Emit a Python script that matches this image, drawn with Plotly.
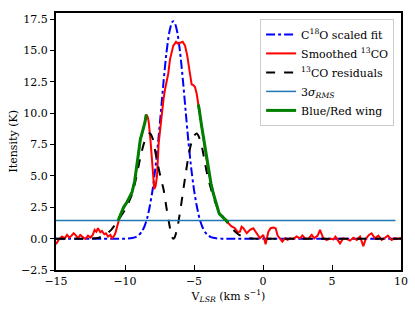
import plotly.graph_objects as go

# ---- data ----
fit_v = [-15.0, -10.0, -9.6, -9.4, -9.2, -9.0, -8.8, -8.6, -8.4, -8.2, -8.0, -7.8, -7.6, -7.4, -7.2,
         -7.0, -6.8, -6.6, -6.5, -6.4, -6.2, -6.0, -5.8, -5.6, -5.4, -5.2, -5.0, -4.8, -4.6,
         -4.4, -4.2, -4.0, -3.8, -3.6, -3.4, -3.0, 10.0]
fit_T = [0.0, 0.0, 0.03, 0.07, 0.14, 0.28, 0.53, 0.95, 1.6, 2.6, 3.9, 5.6, 7.7, 10.1, 12.6,
         14.8, 16.4, 17.25, 17.35, 17.25, 16.4, 14.8, 12.6, 10.1, 7.7, 5.6, 3.9, 2.6, 1.6,
         0.95, 0.53, 0.28, 0.14, 0.07, 0.03, 0.0, 0.0]

res_v = [-15.0, -12.5, -12.0, -11.5, -11.0, -10.5, -10.0, -9.5, -9.2, -9.0, -8.8, -8.6, -8.4, -8.2,
         -8.0, -7.8, -7.6, -7.4, -7.2, -7.0, -6.8, -6.6, -6.5, -6.4, -6.2, -6.0, -5.8, -5.6,
         -5.4, -5.2, -5.0, -4.8, -4.6, -4.4, -4.2, -4.0, -3.8, -3.6, -3.3, -3.0, -2.6, -2.2,
         -1.8, -1.4, -1.0, -0.5, 10.0]
res_T = [0.0, 0.0, 0.05, 0.25, 0.7, 1.45, 2.3, 3.5, 4.8, 5.9, 6.9, 7.7, 8.2, 8.4,
         8.0, 6.9, 5.8, 4.8, 3.9, 2.5, 1.2, 0.15, 0.0, 0.1, 0.9, 2.2, 3.7, 5.2,
         6.6, 7.6, 8.2, 8.38, 8.0, 7.2, 6.0, 4.9, 4.1, 3.3, 2.5, 1.9, 1.3, 0.75,
         0.35, 0.12, 0.03, 0.0, 0.0]

co_v = [-15.0, -14.81, -14.57, -14.37, -14.2, -14.03, -13.89, -13.72, -13.55, -13.41, -13.24,
        -13.07, -12.88, -12.68, -12.51, -12.34, -12.2, -12.08, -11.96, -11.79, -11.67, -11.5,
        -11.38, -11.23, -11.06, -10.94, -10.82, -10.7, -10.6,
        -10.5, -10.34, -10.1, -9.86, -9.7, -9.49, -9.3, -9.13, -9.0, -8.89, -8.7, -8.55, -8.46,
        -8.35, -8.28, -8.15, -8.04, -7.95, -7.88, -7.78, -7.68, -7.56, -7.44, -7.32, -7.2, -7.1,
        -6.95, -6.86, -6.74, -6.6, -6.5, -6.3, -6.15, -6.06, -5.92, -5.82, -5.65, -5.49, -5.34,
        -5.17, -5.05, -4.93, -4.81, -4.69, -4.62, -4.45, -4.25, -4.01, -3.77, -3.6, -3.41,
        -3.17, -2.9, -2.7, -2.51,
        -2.3, -2.03, -1.83, -1.67, -1.55, -1.42, -1.18, -0.94, -0.7, -0.46, -0.22, 0.02, 0.19,
        0.39, 0.55, 0.75, 0.92, 1.06, 1.23, 1.4, 1.59, 1.79, 1.96, 2.2, 2.44, 2.68, 2.85, 3.04,
        3.28, 3.53, 3.72, 3.96, 4.13, 4.25, 4.37, 4.61, 4.9, 5.1, 5.25, 5.58, 5.82, 6.05, 6.3,
        6.55, 6.8, 7.03, 7.27, 7.45, 7.68, 7.87, 8.1, 8.36, 8.6, 8.85, 9.05, 9.32, 9.55, 9.8, 10.0]
co_T = [-0.45, -0.1, 0.17, 0.03, 0.3, 0.08, 0.22, 0.43, 0.24, 0.03, 0.3,
        0.17, -0.02, 0.24, 0.08, 0.3, 0.7, 0.56, 0.83, 0.51, 0.62, 0.35,
        0.43, 0.17, 0.3, 0.03, 0.17, 0.43, 0.83,
        1.45, 1.9, 2.5, 2.9, 3.2, 3.7, 4.6, 5.8, 7.0, 7.9, 8.6, 9.3, 9.9,
        9.7, 9.3, 7.8, 6.3, 4.5, 3.95, 4.2, 5.0, 7.6, 9.0, 10.3, 11.2, 11.9,
        12.8, 13.2, 14.3, 15.0, 15.4, 15.7, 15.55, 15.6, 15.65, 15.7, 15.4, 14.6, 13.5,
        12.3, 12.25, 12.1, 11.6, 10.7, 10.3, 9.0, 7.6, 5.8, 4.4, 3.6, 2.8,
        2.0, 1.7, 1.5, 1.3,
        1.0, 0.83, 0.5, 0.56, 0.95, 0.83, 0.43, 0.7, 0.83, 0.43, 0.03, 0.3, -0.45,
        0.56, 0.83, 0.88, 0.83, 0.24, -0.02, -0.24, 0.03, -0.1, 0.03, -0.02, 0.17, 0.03, 0.25, 0.03,
        -0.02, 0.3, 0.03, 0.24, 0.7, 0.43, 0.03, -0.1, 0.0, -0.05, 0.15, -0.38, 0.03, -0.02, -0.16,
        0.07, -0.1, 0.17, -0.6, 0.0, 0.3, 0.43, 0.03, 0.24, -0.1, 0.07, 0.24, -0.1, 0.03, 0.0, 0.05]

blue_wing = (-10.5, -8.46)
red_wing = (-4.69, -2.51)

rms_v = [-15.0, 9.6]
rms_T = [1.45, 1.45]

x_ticks = [-15, -10, -5, 0, 5, 10]
x_ticklabels = ["−15", "−10", "−5", "0", "5", "10"]
y_ticks = [-2.5, 0, 2.5, 5, 7.5, 10, 12.5, 15, 17.5]
y_ticklabels = ["−2.5", "0.0", "2.5", "5.0", "7.5", "10.0", "12.5", "15.0", "17.5"]

# ---- figure ----
FONT = "DejaVu Serif"

wing_v, wing_T = [], []
for lo, hi in (blue_wing, red_wing):
    for v, t in zip(co_v, co_T):
        if lo <= v <= hi:
            wing_v.append(v)
            wing_T.append(t)
    wing_v.append(None)
    wing_T.append(None)

fig = go.Figure()
fig.add_trace(go.Scatter(x=fit_v, y=fit_T, mode="lines", name="C<sup>18</sup>O scaled fit",
                         line=dict(color="#0000ff", width=2, dash="dashdot", shape="spline", smoothing=0.6)))
fig.add_trace(go.Scatter(x=co_v, y=co_T, mode="lines", name="Smoothed <sup>13</sup>CO",
                         line=dict(color="#ff0000", width=2)))
fig.add_trace(go.Scatter(x=res_v, y=res_T, mode="lines", name="<sup>13</sup>CO residuals",
                         line=dict(color="black", width=2, dash="dash", shape="spline", smoothing=0.6)))
fig.add_trace(go.Scatter(x=rms_v, y=rms_T, mode="lines", name="3<i>σ<sub>RMS</sub></i>",
                         line=dict(color="#1f77b4", width=1.5)))
fig.add_trace(go.Scatter(x=wing_v, y=wing_T, mode="lines", name="Blue/Red wing",
                         line=dict(color="#008000", width=3), connectgaps=False))

axis_common = dict(showline=True, linecolor="black", linewidth=2, mirror=True,
                   tickwidth=1, tickcolor="black",
                   showgrid=False, zeroline=False, automargin=False,
                   tickfont=dict(family=FONT, size=11, color="black"))

fig.update_xaxes(range=[-15, 10], tickvals=x_ticks, ticktext=x_ticklabels,
                 ticks="inside", ticklen=5,
                 title=dict(text="V<sub><i>LSR</i></sub> (km s<sup>−1</sup>)",
                            font=dict(family=FONT, size=11, color="black"), standoff=2),
                 **axis_common)
fig.update_yaxes(range=[-2.5, 18], tickvals=y_ticks, ticktext=y_ticklabels,
                 ticks="outside", ticklen=4,
                 **axis_common)

fig.add_annotation(text="Itensity (K)", textangle=-90, showarrow=False,
                   xref="paper", yref="paper", x=0, y=0.5, xanchor="center", yanchor="middle",
                   xshift=-43, font=dict(family=FONT, size=11, color="black"))

fig.update_layout(
    width=415, height=312,
    margin=dict(l=56, r=14, t=13, b=42),
    plot_bgcolor="white", paper_bgcolor="white",
    showlegend=True,
    legend=dict(x=0.98, y=0.977, xanchor="right", yanchor="top",
                bgcolor="rgba(255,255,255,0.8)", bordercolor="#cccccc", borderwidth=1,
                font=dict(family=FONT, size=11, color="black"),
                itemwidth=30, tracegroupgap=0),
)

fig.write_html("out.html", config={"displayModeBar": False},
               post_script="document.body.style.margin='0';")
